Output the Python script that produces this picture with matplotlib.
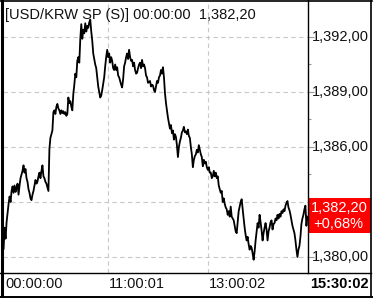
import matplotlib
matplotlib.use("Agg")
import matplotlib.pyplot as plt
from matplotlib.lines import Line2D
from matplotlib.patches import Rectangle

# ---------------- data ----------------
price = [
    1380.45, 1381.6, 1381.0, 1381.9, 1382.4, 1382.9, 1383.3, 1383.0, 1383.6, 1383.85,
    1383.5, 1383.9, 1383.55, 1383.8, 1384.0, 1383.4, 1383.9, 1384.3, 1384.5, 1384.7,
    1385.0, 1384.6, 1384.8, 1384.3, 1384.1, 1383.7, 1383.5, 1383.2, 1383.1, 1383.4,
    1383.6, 1383.9, 1384.2, 1384.0, 1384.1, 1384.4, 1384.6, 1384.3, 1384.7, 1385.0,
    1384.4, 1384.3, 1384.1, 1384.0, 1383.8, 1383.6, 1385.9, 1386.5, 1386.7, 1386.9,
    1387.9, 1388.0, 1387.8, 1388.2, 1388.35, 1388.1, 1388.0, 1387.8, 1388.0, 1387.85,
    1387.95, 1387.8, 1387.9, 1387.7, 1387.8, 1388.7, 1388.4, 1388.5, 1388.2, 1388.0,
    1388.9, 1389.4, 1390.0, 1389.8, 1390.7, 1390.9, 1390.6, 1391.9, 1392.7, 1391.9,
    1392.4, 1392.2, 1392.75, 1392.3, 1392.6, 1392.5, 1392.8, 1392.95, 1392.3, 1391.8,
    1391.1, 1390.8, 1390.5, 1390.3, 1389.8, 1389.3, 1389.0, 1388.7, 1388.8, 1389.1,
    1389.45, 1389.8, 1390.4, 1390.9, 1391.3, 1390.9, 1391.1, 1390.6, 1390.9, 1390.7,
    1390.3, 1390.2, 1390.5, 1390.2, 1390.35, 1389.9, 1389.8, 1389.6, 1389.4, 1389.25,
    1389.7, 1390.4, 1390.6, 1390.9, 1391.1, 1390.8, 1391.3, 1390.9, 1390.7, 1390.75,
    1390.4, 1390.6, 1390.2, 1390.0, 1390.05, 1390.3, 1390.5, 1390.6, 1390.3, 1390.75,
    1390.4, 1390.5, 1390.3, 1389.9, 1389.8, 1389.5, 1389.55, 1389.6, 1389.3, 1389.4,
    1389.35, 1389.1, 1389.0, 1389.3, 1389.6, 1389.5, 1389.8, 1389.9, 1390.2, 1390.0,
    1390.35, 1389.8, 1388.95, 1388.4, 1388.0, 1387.6, 1387.3, 1387.0, 1387.2, 1386.75,
    1386.9, 1386.4, 1386.7, 1386.55, 1386.1, 1385.45, 1386.0, 1386.3, 1386.5, 1386.8,
    1386.9, 1387.1, 1386.8, 1386.85, 1386.7, 1386.95, 1386.6, 1386.5, 1386.0, 1385.6,
    1384.9, 1385.3, 1385.5, 1385.6, 1385.85, 1385.7, 1386.1, 1385.85, 1385.6, 1385.45,
    1384.95, 1385.3, 1385.1, 1385.2, 1384.9, 1384.75, 1384.9, 1384.6, 1384.6, 1384.3,
    1384.4, 1384.7, 1384.4, 1384.6, 1384.3, 1384.4, 1383.9, 1383.7, 1383.5, 1383.6,
    1383.0, 1383.2, 1382.9, 1382.7, 1382.6, 1382.3, 1382.5, 1382.2, 1382.75, 1382.2,
    1382.1, 1382.0, 1381.7, 1381.4, 1381.3, 1381.9, 1382.5, 1382.75, 1383.0, 1383.15,
    1382.6, 1382.1, 1381.6, 1381.2, 1380.9, 1381.1, 1380.7, 1380.4, 1380.6, 1380.5,
    1380.2, 1379.85, 1380.3, 1380.9, 1381.4, 1381.85, 1381.6, 1382.3, 1381.9, 1381.45,
    1380.9, 1381.3, 1381.6, 1381.85, 1381.5, 1380.9, 1381.4, 1381.6, 1381.9, 1382.0,
    1381.5, 1381.8, 1381.85, 1382.1, 1382.0, 1382.3, 1382.1, 1382.35, 1382.2, 1382.5,
    1382.4, 1382.6, 1382.5, 1382.8, 1382.95, 1383.05, 1382.7, 1382.55, 1382.3, 1382.0,
    1381.7, 1381.5, 1381.3, 1380.9, 1380.4, 1380.0, 1380.4, 1380.6, 1381.1, 1381.8,
    1382.1, 1382.3, 1382.6, 1382.8, 1381.7, 1382.2,
]
tick_no = list(range(len(price)))

y_levels = [1380, 1383, 1386, 1389, 1392]
y_labels_shown = [1380, 1386, 1389, 1392]   # 1383 label is covered by the price box
y_minor = [1381.5, 1384.5, 1387.5, 1390.5]
x_grid_ticks = [105, 205]
x_labels = ["00:00:00", "11:00:01", "13:00:02"]
x_label_ticks = [0, 105, 205]
last_time = "15:30:02"
title = "[USD/KRW SP (S)] 00:00:00  1,382,20"
last_price = "1,382,20"
change = "+0,68%"

def fmt(v):
    return "1,%03d,00" % (v - 1000)

# ---------------- layout ----------------
W, H = 373, 298
fig = plt.figure(figsize=(W / 100, H / 100), dpi=100)
fig.patch.set_facecolor("white")
plt.rcParams["font.family"] = ["Liberation Sans", "DejaVu Sans"]

def fx(px):
    return px / W

def fy(py):
    return 1 - py / H

L, R, T, B = 3, 308, 3, 273
RR = 371
ppu = 18.333
ytop = 1392 + (37 - T) / ppu
ybot = 1392 - (B - 37) / ppu

ax = fig.add_axes([fx(L), fy(B), (R - L) / W, (B - T) / H])
ax.set_xlim(-0.6, len(price) - 0.4)
ax.set_ylim(ybot, ytop)
for s in ax.spines.values():
    s.set_visible(False)
ax.set_xticks([])
ax.yaxis.tick_right()
ax.set_yticks(y_levels)
ax.set_yticks(y_minor, minor=True)
ax.tick_params(axis="y", which="major", direction="out", length=4, width=0.8,
               color="#999999", labelright=False)
ax.tick_params(axis="y", which="minor", direction="out", length=2, width=0.8,
               color="#999999")
for yv in y_levels:
    ax.axhline(yv, color="#c8c8c8", lw=0.8, ls=(0, (4, 3)), zorder=1)
for xv in x_grid_ticks:
    ax.axvline(xv, color="#c8c8c8", lw=0.8, ls=(0, (4, 3)), zorder=1)

ax.plot(tick_no, price, color="black", lw=1.3, zorder=3)

fig.text(fx(5), fy(15), title, fontsize=10.5, color="#111111",
         ha="left", va="center", zorder=2)

# right panel for labels
axr = fig.add_axes([fx(R), fy(B), (RR - R) / W, (B - T) / H])
axr.set_xlim(0, RR - R)
axr.set_ylim(ybot, ytop)
axr.axis("off")
for yv in y_labels_shown:
    axr.text(4, yv, fmt(yv), fontsize=10.5, color="#111111", ha="left",
             va="center", clip_on=True)

# red price box
box_top, box_bot = 198, 233
fig.patches.append(Rectangle((fx(R), fy(box_bot)), (RR - R) / W,
                             (box_bot - box_top) / H, transform=fig.transFigure,
                             facecolor="#ff0000", edgecolor="none", zorder=5))
fig.text(fx(311), fy(208), last_price, fontsize=10.5, color="white",
         ha="left", va="center", zorder=6)
fig.text(fx(313), fy(224), change, fontsize=10.5, color="white",
         ha="left", va="center", zorder=6)

# x labels
for t, lab in zip(x_label_ticks, x_labels):
    xp = ax.transData.transform((t, 0))[0] / fig.dpi / fig.get_figwidth()
    fig.text(xp + (2 / W if t == 0 else 1 / W), fy(284), lab, fontsize=10.5,
             color="#111111", ha="left", va="center")
fig.text(fx(369), fy(284), last_time, fontsize=10.5, color="black",
         fontweight="bold", ha="right", va="center")

# frame lines
def fline(x0, y0, x1, y1, lw):
    fig.lines.append(Line2D([fx(x0), fx(x1)], [fy(y0), fy(y1)],
                            transform=fig.transFigure, color="black", lw=lw,
                            zorder=10))

fline(1.5, 0.5, 1.5, 297, 2.2)
fline(0, 0.5, RR + 1, 0.5, 1.2)
fline(RR, 0, RR, 297, 1.2)
fline(0, 296.5, RR + 1, 296.5, 1.4)
fline(R, 0, R, B, 1.0)
fline(0, B, RR, B, 1.0)

fig.savefig("out.png", dpi=100, facecolor="white")
